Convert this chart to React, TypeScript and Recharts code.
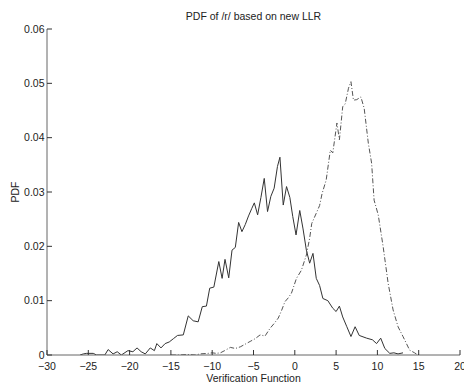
import React from "react";
import { LineChart, Line, XAxis, YAxis } from "recharts";

// solid curve (x = verification function value, y = pdf)
const solidX = [
  -26, -25.6, -25.2, -24.4, -24, -23, -22.6, -22, -21.5, -21, -20.2, -19.6, -19.1, -18.6, -18.1,
  -17.5, -17, -16.7, -16.2, -15.7, -15.2, -14.7, -14.2, -13.5, -12.9, -12.3, -11.7, -11.2,
  -10.7, -10.3, -9.8, -9.2, -8.8, -8.45, -8.0, -7.6, -7.2, -6.8, -6.4, -6.0, -5.6, -5.2,
  -4.9, -4.5, -4.1, -3.7, -3.3, -2.9, -2.5, -2.1, -1.8, -1.4, -1.0, -0.6, -0.25, 0.15, 0.6,
  1.0, 1.4, 1.8, 2.2, 2.6, 3.0, 3.4, 4.0, 4.6, 5.0, 5.4, 5.8, 6.3, 6.8, 7.3, 7.8, 8.7, 9.4,
  9.9, 10.4, 10.9, 11.5, 12.0, 12.5, 13.1,
];
const solidY = [
  0, 0.0002, 0.0003, 0.0003, 0, 0, 0.001, 0.0002, 0.0006, 0, 0.0008, 0.0006, 0.0013, 0.0006, 0.0002,
  0.0013, 0.0008, 0.0021, 0.0013, 0.0021, 0.0024, 0.003, 0.0036, 0.0037, 0.0072, 0.0063, 0.0061, 0.0089,
  0.009, 0.0123, 0.0125, 0.0172, 0.0141, 0.0176, 0.0142, 0.0193, 0.0198, 0.0244, 0.0227, 0.024, 0.0256, 0.027,
  0.028, 0.0258, 0.029, 0.0325, 0.0264, 0.0292, 0.0307, 0.0347, 0.0364, 0.0276, 0.031, 0.029, 0.0255, 0.0221, 0.0266,
  0.0232, 0.0193, 0.0169, 0.0187, 0.0141, 0.0128, 0.0104, 0.01, 0.0086, 0.008, 0.009, 0.007, 0.0052, 0.0034, 0.0052, 0.0036, 0.0031, 0.0028,
  0.0021, 0.0031, 0.0012, 0.0003, 0.0004, 0.0002, 0.0004,
];

// dash-dot curve
const dashX = [
  -15, -14, -13, -12, -11.5, -10.5, -10, -9.5, -9, -8.5, -7.8, -7.2, -6.6, -6.0, -5.4, -4.8,
  -4.2, -3.6, -3.0, -2.5, -2.0, -1.6, -1.2, -0.8, -0.4, 0.2, 0.8, 1.4, 1.8, 2.05, 2.6, 3.0,
  3.3, 3.8, 4.3, 4.6, 5.1, 5.4, 5.8, 6.1, 6.5, 6.8, 7.1, 7.5, 8.0, 8.4, 8.9, 9.3, 9.6, 10.1,
  10.7, 11.3, 11.9, 12.5, 13.1, 13.9, 14.5, 14.9, 15.2,
];
const dashY = [
  0, 0, 0.0001, 0, 0.0002, 0.0003, 0.0004, 0.0003, 0.0004, 0.0008, 0.0014, 0.0012, 0.0015, 0.002, 0.0025, 0.003,
  0.0037, 0.0035, 0.0049, 0.0058, 0.0068, 0.0082, 0.0098, 0.0105, 0.0114, 0.0141, 0.0156, 0.0184, 0.0215, 0.0242, 0.0261, 0.0275,
  0.0297, 0.0322, 0.0377, 0.0372, 0.0427, 0.0396, 0.0457, 0.0462, 0.0491, 0.0503, 0.0469, 0.047, 0.0475, 0.0454, 0.039, 0.0353, 0.0285, 0.0258,
  0.0199, 0.0132, 0.0083, 0.0052, 0.0034, 0.0009, 0.0004, 0, 0.0003,
];

const xTicks = [-30, -25, -20, -15, -10, -5, 0, 5, 10, 15, 20];
const yTicks = [0, 0.01, 0.02, 0.03, 0.04, 0.05, 0.06];

const solidData = solidX.map((x, i) => ({ x, y: solidY[i] }));
const dashData = dashX.map((x, i) => ({ x, y: dashY[i] }));

const font = "'Liberation Sans', Arial, Helvetica, sans-serif";
const fs = 10.5;
const tickLen = 5;

const fmtX = (v: number) => (v < 0 ? "\u2212" + Math.abs(v) : String(v));

const BottomTick = ({ x, y, payload }: any) => (
  <g>
    <line x1={x} y1={y} x2={x} y2={y - tickLen} stroke="#333" />
    <text x={x} y={y + 14.5} textAnchor="middle" fontSize={fs} fontFamily={font} fill="#222">
      {fmtX(payload.value)}
    </text>
  </g>
);

const TopTick = ({ x, y }: any) => <line x1={x} y1={y} x2={x} y2={y + tickLen} stroke="#333" />;

const LeftTick = ({ x, y, payload }: any) => (
  <g>
    <line x1={x} y1={y} x2={x + tickLen} y2={y} stroke="#333" />
    <text x={x - 2.5} y={y + 3.7} textAnchor="end" fontSize={fs} fontFamily={font} fill="#222">
      {String(payload.value)}
    </text>
  </g>
);

const RightTick = ({ x, y }: any) => <line x1={x} y1={y} x2={x - tickLen} y2={y} stroke="#333" />;

export default function App() {
  return (
    <div style={{ position: "absolute", left: 0, top: 0, width: 464, height: 383, background: "#fff" }}>
      <div
        style={{
          position: "absolute",
          left: 47,
          width: 413,
          top: 9.5,
          textAlign: "center",
          fontFamily: font,
          fontSize: fs,
          lineHeight: "12px",
          color: "#222",
        }}
      >
        PDF of /r/ based on new LLR
      </div>
      <LineChart width={464} height={383} margin={{ top: 29, right: 4, bottom: 0, left: 0 }}>
        <XAxis
          xAxisId="bottom"
          dataKey="x"
          type="number"
          domain={[-30, 20]}
          ticks={xTicks}
          allowDataOverflow
          height={28}
          tickSize={0}
          tickMargin={0}
          tickLine={false}
          axisLine={{ stroke: "#666" }}
          tick={<BottomTick />}
          interval={0}
          label={{
            value: "Verification Function",
            position: "insideBottom",
            offset: 1,
            style: { fontFamily: font, fontSize: fs, fill: "#222" },
          }}
        />
        <XAxis
          xAxisId="top"
          orientation="top"
          dataKey="x"
          type="number"
          domain={[-30, 20]}
          ticks={xTicks}
          allowDataOverflow
          height={0}
          tickSize={0}
          tickMargin={0}
          tickLine={false}
          axisLine={{ stroke: "#666" }}
          tick={<TopTick />}
          interval={0}
        />
        <YAxis
          yAxisId="left"
          type="number"
          domain={[0, 0.06]}
          ticks={yTicks}
          allowDataOverflow
          width={47}
          tickSize={0}
          tickMargin={0}
          tickLine={false}
          axisLine={{ stroke: "#666" }}
          tick={<LeftTick />}
          interval={0}
          label={{
            value: "PDF",
            angle: -90,
            position: "insideLeft",
            offset: 15,
            style: { fontFamily: font, fontSize: fs, fill: "#222", textAnchor: "middle" },
          }}
        />
        <YAxis
          yAxisId="right"
          orientation="right"
          type="number"
          domain={[0, 0.06]}
          ticks={yTicks}
          allowDataOverflow
          width={0}
          tickSize={0}
          tickMargin={0}
          tickLine={false}
          axisLine={{ stroke: "#666" }}
          tick={<RightTick />}
          interval={0}
        />
        <Line
          xAxisId="bottom"
          yAxisId="left"
          data={solidData}
          dataKey="y"
          type="linear"
          stroke="#333"
          strokeWidth={1}
          dot={false}
          isAnimationActive={false}
        />
        <Line
          xAxisId="bottom"
          yAxisId="left"
          data={dashData}
          dataKey="y"
          type="linear"
          stroke="#555"
          strokeWidth={1}
          strokeDasharray="5 2 1 2"
          dot={false}
          isAnimationActive={false}
        />
      </LineChart>
    </div>
  );
}
